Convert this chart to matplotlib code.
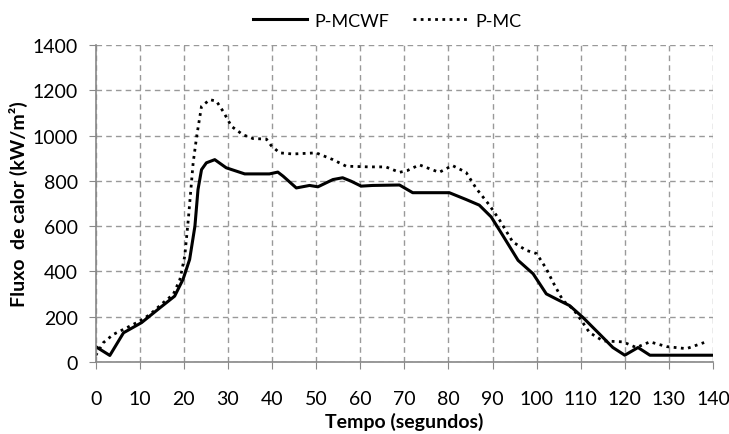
import matplotlib.pyplot as plt

# P-MCWF (solid) values
t_mcwf = [0, 3.2, 6.3, 10.4, 14.6, 17.9, 19.8, 21.3, 22.5, 23.2, 24, 25.1, 27,
          29.6, 33.8, 39.4, 41.3, 42.5, 45.5, 48.5, 50.4, 53.8, 56, 57.9, 60.2,
          62.8, 68.9, 71.9, 80.2, 84, 87, 89.7, 92.3, 95.8, 99.2, 102.2, 104.5,
          107.5, 110.5, 114.3, 117.3, 120, 123, 125.7, 140]
q_mcwf = [68, 29, 129, 174, 240, 291, 365, 453, 600, 762, 850, 880, 894,
          858, 831, 831, 839, 821, 769, 780, 774, 806, 814, 799, 777,
          780, 782, 748, 748, 718, 693, 641, 560, 449, 390, 301, 278,
          249, 197, 123, 64, 30, 64, 30, 30]

# P-MC (dotted) values
t_mc = [0, 1.7, 4, 7, 10, 12.3, 15.3, 17.6, 19.1, 20.2, 21, 22.1, 22.9, 24,
        25.9, 27.4, 28.9, 30.8, 33.4, 35.7, 38.7, 39.8, 41.7, 44.7, 50, 53.8,
        56.8, 62.1, 65.8, 68.9, 70.7, 73.4, 77.9, 80.9, 84, 86.3, 89.3, 91.6,
        94.6, 97.7, 100, 102.2, 103.7, 106, 108.3, 110.2, 112, 115.1, 119.6,
        122.6, 125.7, 129.5, 134, 138]
q_mc = [29, 85, 122, 151, 181, 210, 262, 299, 365, 468, 630, 880, 997, 1130,
        1159, 1152, 1107, 1041, 1004, 987, 985, 956, 924, 919, 924, 894,
        865, 862, 862, 838, 846, 871, 838, 868, 838, 767, 693, 627,
        530, 493, 479, 412, 353, 271, 234, 182, 130, 93, 89,
        64, 89, 68, 59, 86]

plt.rcParams['font.family'] = ['Lato', 'DejaVu Sans']

fig = plt.figure(figsize=(7.29, 4.35), dpi=100)
ax = fig.add_axes([0.1313, 0.1655, 0.8467, 0.7285])

ax.plot(t_mcwf, q_mcwf, color='black', linewidth=2.2, label='P-MCWF')
ax.plot(t_mc, q_mc, color='black', linewidth=2.0, linestyle=(0, (1, 1.6)), label='P-MC')

ax.set_xlim(0, 140)
ax.set_ylim(0, 1400)
ax.set_xticks(range(0, 141, 10))
ax.set_yticks(range(0, 1401, 200))
ax.tick_params(labelsize=14, length=5, color='#888888')
ax.tick_params(axis='x', pad=15)
ax.tick_params(axis='y', pad=8)

ax.grid(True, color='#999999', linestyle=(0, (4, 3)), linewidth=1)
for s in ['top', 'right']:
    ax.spines[s].set_visible(False)
for s in ['left', 'bottom']:
    ax.spines[s].set_color('#888888')
    ax.spines[s].set_linewidth(1.2)

ax.set_xlabel('Tempo (segundos)', fontsize=14, fontweight='bold', labelpad=4)
ax.set_ylabel('Fluxo  de calor (kW/m²)', fontsize=14, fontweight='bold', labelpad=3)

fig.legend(loc='center', bbox_to_anchor=(0.531, 0.950), ncol=2, frameon=False,
           fontsize=13, handlelength=3.0, columnspacing=1.3, handletextpad=0.45)

fig.savefig('out.png', dpi=100)
